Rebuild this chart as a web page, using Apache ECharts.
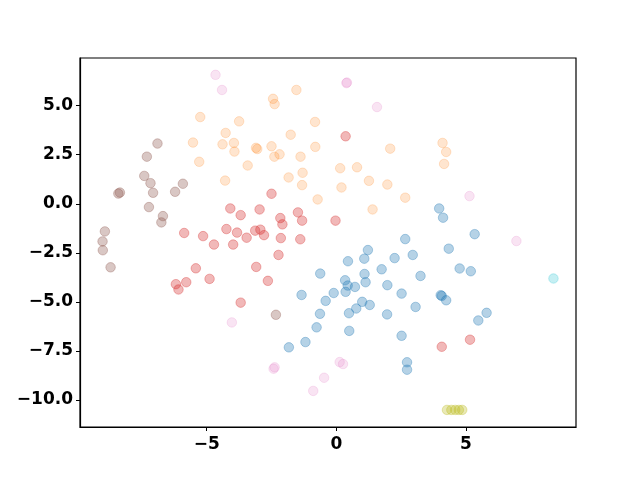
<!DOCTYPE html>
<html>
<head>
<meta charset="utf-8">
<style>
html, body { margin: 0; padding: 0; background: #fff; }
#chart { width: 640px; height: 480px; }
</style>
<script src="https://cdn.jsdelivr.net/npm/echarts@6/dist/echarts.min.js"></script>
</head>
<body>
<div id="chart"></div>
<script>
// points per cluster, [x, y]
const blue = [
  [2.66,-1.80],[1.22,-2.36],[1.08,-2.80],[0.45,-2.93],[2.25,-2.77],[1.75,-3.34],
  [-0.62,-3.56],[1.09,-3.58],[1.13,-4.00],[0.34,-3.90],[0.44,-4.17],[0.72,-4.24],
  [0.36,-4.49],[-0.10,-4.55],[1.97,-4.15],[2.52,-4.58],[-1.34,-4.65],[-0.41,-4.95],
  [1.00,-5.00],[1.29,-5.16],[0.77,-5.34],[-0.63,-5.61],[0.49,-5.58],[1.96,-5.64],
  [-0.76,-6.30],[0.50,-6.48],[2.52,-6.73],[-1.19,-7.05],[-1.83,-7.32],[2.73,-8.08],
  [2.73,-8.46],[3.97,-0.24],[4.12,-0.71],[5.34,-1.55],[2.95,-2.61],[4.34,-2.29],
  [4.76,-3.30],[5.19,-3.44],[3.25,-3.68],[4.03,-4.66],[4.07,-4.70],[4.24,-4.92],
  [3.06,-5.26],[5.80,-5.56],[5.48,-5.95]
];
const orange = [
  [-5.25,4.42],[-3.75,4.20],[-4.27,3.61],[-5.53,3.12],[-4.39,3.03],[-3.95,3.10],
  [-3.93,2.66],[-5.29,2.14],[-3.42,1.95],[-4.29,1.18],[-1.54,5.80],[-2.44,5.35],
  [-2.38,5.08],[-0.82,4.17],[-1.76,3.52],[-0.81,2.90],[-3.10,2.85],[-3.05,2.79],
  [-2.50,2.93],[-2.19,2.52],[-2.39,2.40],[-1.38,2.40],[-1.84,1.34],[-1.30,1.58],
  [-1.32,0.95],[0.15,1.81],[0.80,1.86],[1.26,1.17],[1.97,0.98],[0.20,0.83],
  [2.08,2.81],[4.10,3.10],[4.24,2.64],[4.16,2.03],[-0.72,0.22],[1.40,-0.29],
  [2.66,0.31]
];
const red = [
  [-4.09,-0.24],[-3.69,-0.58],[-5.87,-1.49],[-5.14,-1.65],[-4.72,-2.08],[-4.24,-1.29],
  [-3.83,-1.47],[-3.46,-1.73],[-3.98,-2.08],[-5.42,-3.29],[-4.89,-3.83],[-5.79,-4.00],
  [-6.19,-4.10],[-6.09,-4.37],[-3.69,-5.04],[-2.50,0.51],[-2.96,-0.29],[-2.16,-0.73],
  [-2.08,-1.05],[-1.48,-0.44],[-1.32,-0.86],[-0.03,-0.86],[-3.13,-1.37],[-2.93,-1.32],
  [-2.79,-1.60],[-2.14,-1.75],[-1.39,-1.81],[-2.23,-2.61],[-3.09,-3.22],[-2.64,-3.93],
  [0.36,3.44],[4.07,-7.29],[5.16,-6.93]
];
const brown = [
  [-6.90,3.07],[-7.31,2.40],[-7.41,1.42],[-7.17,1.05],[-5.92,1.02],[-8.35,0.57],
  [-8.41,0.52],[-7.07,0.56],[-6.22,0.61],[-7.23,-0.17],[-6.69,-0.63],[-6.75,-0.95],
  [-8.93,-1.41],[-9.02,-1.92],[-9.01,-2.37],[-8.71,-3.24],[-2.33,-5.66]
];
const pink = [
  [-4.66,6.57],[-4.41,5.80],[0.39,6.15],[0.41,6.18],[1.57,4.93],[5.14,0.39],
  [6.95,-1.90],[-4.03,-6.05],[-2.38,-8.34],[-2.42,-8.41],[0.13,-8.07],[0.26,-8.17],
  [-0.47,-8.87],[-0.89,-9.54]
];
const olive = [[4.27,-10.51],[4.44,-10.51],[4.59,-10.51],[4.73,-10.51],[4.86,-10.51]];
const cyan = [[8.38,-3.81]];

const xTicks = [-5, 0, 5];
const yTicks = [-10, -7.5, -5, -2.5, 0, 2.5, 5];

let chart = echarts.init(document.getElementById('chart'));

function minus(s) { return s.replace('-', '\u2212'); }

function dots(data, color, alpha) {
  return {
    type: 'scatter',
    data: data,
    symbolSize: 9.5,
    itemStyle: { color: color, borderColor: color, borderWidth: 1, opacity: alpha },
    emphasis: { disabled: true }
  };
}

const labelStyle = {
  fontFamily: 'DejaVu Sans',
  fontWeight: 'bold',
  fontSize: 17,
  color: '#000'
};

chart.setOption({
  animation: false,
  grid: {
    left: 80, right: 64, top: 58, bottom: 53,
    show: true, borderColor: '#000', borderWidth: 1.2
  },
  xAxis: {
    type: 'value',
    min: -9.89, max: 9.25,
    splitLine: { show: false },
    axisLine: { show: true, onZero: false, lineStyle: { color: '#000', width: 1.2 } },
    axisTick: { show: true, customValues: xTicks, length: 4, lineStyle: { color: '#000' } },
    axisLabel: Object.assign({ customValues: xTicks, margin: 9,
      formatter: v => minus(String(v)) }, labelStyle)
  },
  yAxis: {
    type: 'value',
    min: -11.38, max: 7.43,
    splitLine: { show: false },
    axisLine: { show: true, onZero: false, lineStyle: { color: '#000', width: 1.2 } },
    axisTick: { show: true, customValues: yTicks, length: 4, lineStyle: { color: '#000' } },
    axisLabel: Object.assign({ customValues: yTicks, margin: 7,
      formatter: v => minus(v.toFixed(1)) }, labelStyle)
  },
  series: [
    dots(blue, '#1f77b4', 0.33),
    dots(orange, '#ff7f0e', 0.2),
    dots(red, '#d62728', 0.33),
    dots(brown, '#8c564b', 0.33),
    dots(pink, '#e377c2', 0.2),
    dots(olive, '#bcbd22', 0.33),
    dots(cyan, '#17becf', 0.25)
  ]
});
</script>
</body>
</html>
